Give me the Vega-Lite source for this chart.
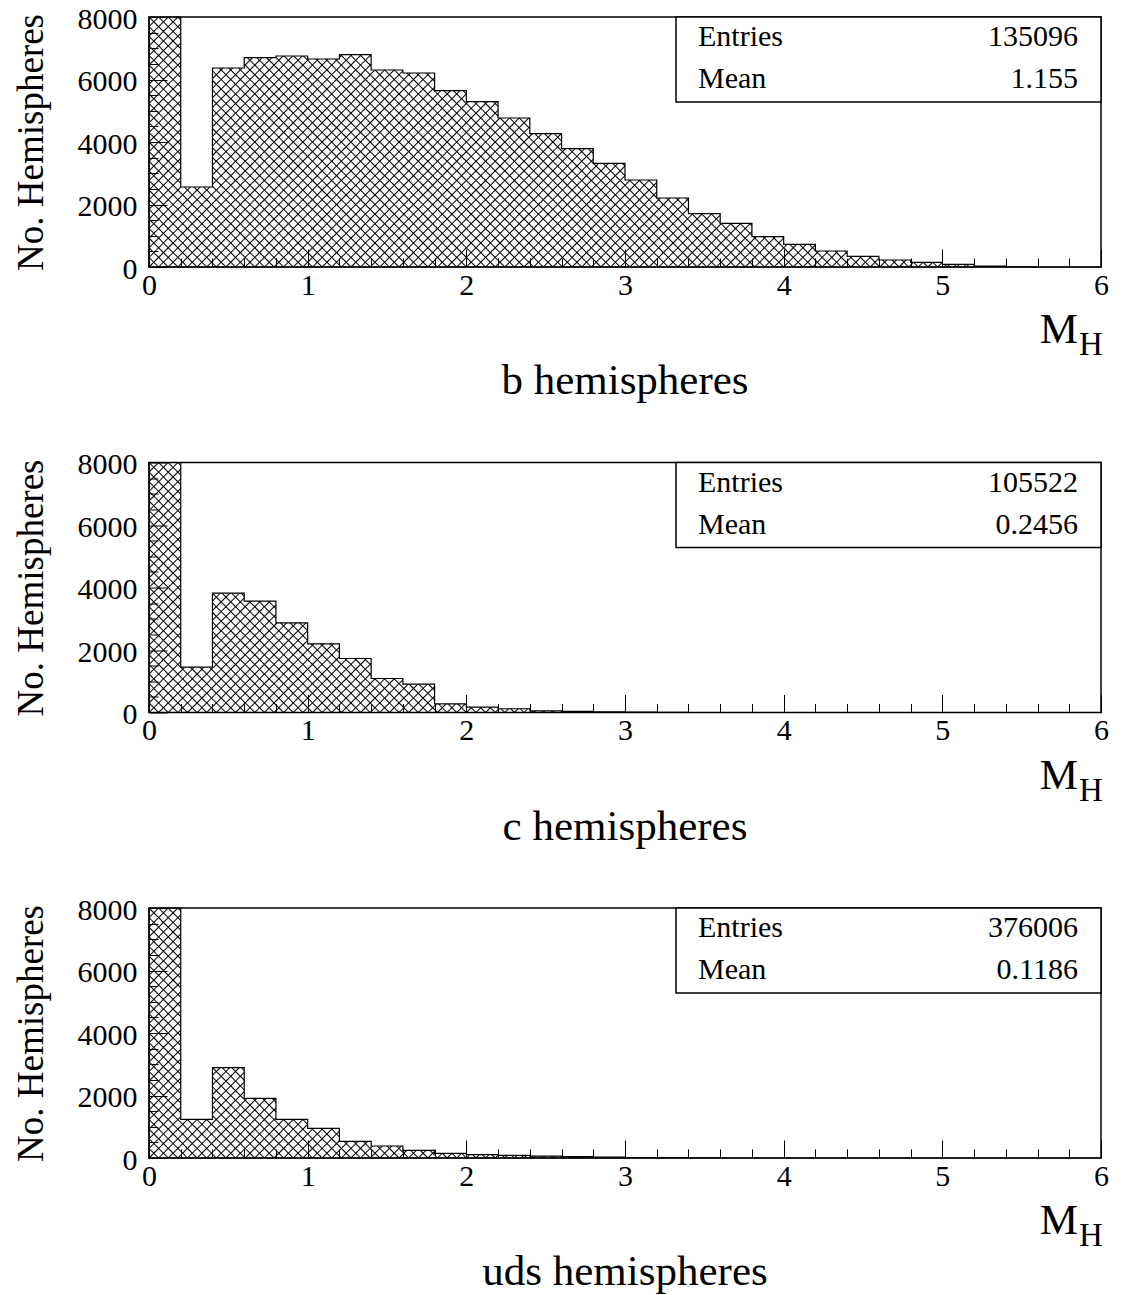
{
"$schema": "https://vega.github.io/schema/vega-lite/v6.json",
"autosize": {"type": "none"},
"padding": {"left": 149, "top": 17, "right": 974, "bottom": 1278},
"background": "white",
"params": [
{"name": "hs", "value": [
{"offset":0,"color":"#000"},{"offset":0.0012,"color":"#0000"},
{"offset":0.0068,"color":"#0000"},{"offset":0.008,"color":"#000"},{"offset":0.0092,"color":"#0000"},
{"offset":0.0148,"color":"#0000"},{"offset":0.016,"color":"#000"},{"offset":0.0172,"color":"#0000"},
{"offset":0.0228,"color":"#0000"},{"offset":0.024,"color":"#000"},{"offset":0.0252,"color":"#0000"},
{"offset":0.0308,"color":"#0000"},{"offset":0.032,"color":"#000"},{"offset":0.0332,"color":"#0000"},
{"offset":0.0388,"color":"#0000"},{"offset":0.04,"color":"#000"},{"offset":0.0412,"color":"#0000"},
{"offset":0.0468,"color":"#0000"},{"offset":0.048,"color":"#000"},{"offset":0.0492,"color":"#0000"},
{"offset":0.0548,"color":"#0000"},{"offset":0.056,"color":"#000"},{"offset":0.0572,"color":"#0000"},
{"offset":0.0628,"color":"#0000"},{"offset":0.064,"color":"#000"},{"offset":0.0652,"color":"#0000"},
{"offset":0.0708,"color":"#0000"},{"offset":0.072,"color":"#000"},{"offset":0.0732,"color":"#0000"},
{"offset":0.0788,"color":"#0000"},{"offset":0.08,"color":"#000"},{"offset":0.0812,"color":"#0000"},
{"offset":0.0868,"color":"#0000"},{"offset":0.088,"color":"#000"},{"offset":0.0892,"color":"#0000"},
{"offset":0.0948,"color":"#0000"},{"offset":0.096,"color":"#000"},{"offset":0.0972,"color":"#0000"},
{"offset":0.1028,"color":"#0000"},{"offset":0.104,"color":"#000"},{"offset":0.1052,"color":"#0000"},
{"offset":0.1108,"color":"#0000"},{"offset":0.112,"color":"#000"},{"offset":0.1132,"color":"#0000"},
{"offset":0.1188,"color":"#0000"},{"offset":0.12,"color":"#000"},{"offset":0.1212,"color":"#0000"},
{"offset":0.1268,"color":"#0000"},{"offset":0.128,"color":"#000"},{"offset":0.1292,"color":"#0000"},
{"offset":0.1348,"color":"#0000"},{"offset":0.136,"color":"#000"},{"offset":0.1372,"color":"#0000"},
{"offset":0.1428,"color":"#0000"},{"offset":0.144,"color":"#000"},{"offset":0.1452,"color":"#0000"},
{"offset":0.1508,"color":"#0000"},{"offset":0.152,"color":"#000"},{"offset":0.1532,"color":"#0000"},
{"offset":0.1588,"color":"#0000"},{"offset":0.16,"color":"#000"},{"offset":0.1612,"color":"#0000"},
{"offset":0.1668,"color":"#0000"},{"offset":0.168,"color":"#000"},{"offset":0.1692,"color":"#0000"},
{"offset":0.1748,"color":"#0000"},{"offset":0.176,"color":"#000"},{"offset":0.1772,"color":"#0000"},
{"offset":0.1828,"color":"#0000"},{"offset":0.184,"color":"#000"},{"offset":0.1852,"color":"#0000"},
{"offset":0.1908,"color":"#0000"},{"offset":0.192,"color":"#000"},{"offset":0.1932,"color":"#0000"},
{"offset":0.1988,"color":"#0000"},{"offset":0.2,"color":"#000"},{"offset":0.2012,"color":"#0000"},
{"offset":0.2068,"color":"#0000"},{"offset":0.208,"color":"#000"},{"offset":0.2092,"color":"#0000"},
{"offset":0.2148,"color":"#0000"},{"offset":0.216,"color":"#000"},{"offset":0.2172,"color":"#0000"},
{"offset":0.2228,"color":"#0000"},{"offset":0.224,"color":"#000"},{"offset":0.2252,"color":"#0000"},
{"offset":0.2308,"color":"#0000"},{"offset":0.232,"color":"#000"},{"offset":0.2332,"color":"#0000"},
{"offset":0.2388,"color":"#0000"},{"offset":0.24,"color":"#000"},{"offset":0.2412,"color":"#0000"},
{"offset":0.2468,"color":"#0000"},{"offset":0.248,"color":"#000"},{"offset":0.2492,"color":"#0000"},
{"offset":0.2548,"color":"#0000"},{"offset":0.256,"color":"#000"},{"offset":0.2572,"color":"#0000"},
{"offset":0.2628,"color":"#0000"},{"offset":0.264,"color":"#000"},{"offset":0.2652,"color":"#0000"},
{"offset":0.2708,"color":"#0000"},{"offset":0.272,"color":"#000"},{"offset":0.2732,"color":"#0000"},
{"offset":0.2788,"color":"#0000"},{"offset":0.28,"color":"#000"},{"offset":0.2812,"color":"#0000"},
{"offset":0.2868,"color":"#0000"},{"offset":0.288,"color":"#000"},{"offset":0.2892,"color":"#0000"},
{"offset":0.2948,"color":"#0000"},{"offset":0.296,"color":"#000"},{"offset":0.2972,"color":"#0000"},
{"offset":0.3028,"color":"#0000"},{"offset":0.304,"color":"#000"},{"offset":0.3052,"color":"#0000"},
{"offset":0.3108,"color":"#0000"},{"offset":0.312,"color":"#000"},{"offset":0.3132,"color":"#0000"},
{"offset":0.3188,"color":"#0000"},{"offset":0.32,"color":"#000"},{"offset":0.3212,"color":"#0000"},
{"offset":0.3268,"color":"#0000"},{"offset":0.328,"color":"#000"},{"offset":0.3292,"color":"#0000"},
{"offset":0.3348,"color":"#0000"},{"offset":0.336,"color":"#000"},{"offset":0.3372,"color":"#0000"},
{"offset":0.3428,"color":"#0000"},{"offset":0.344,"color":"#000"},{"offset":0.3452,"color":"#0000"},
{"offset":0.3508,"color":"#0000"},{"offset":0.352,"color":"#000"},{"offset":0.3532,"color":"#0000"},
{"offset":0.3588,"color":"#0000"},{"offset":0.36,"color":"#000"},{"offset":0.3612,"color":"#0000"},
{"offset":0.3668,"color":"#0000"},{"offset":0.368,"color":"#000"},{"offset":0.3692,"color":"#0000"},
{"offset":0.3748,"color":"#0000"},{"offset":0.376,"color":"#000"},{"offset":0.3772,"color":"#0000"},
{"offset":0.3828,"color":"#0000"},{"offset":0.384,"color":"#000"},{"offset":0.3852,"color":"#0000"},
{"offset":0.3908,"color":"#0000"},{"offset":0.392,"color":"#000"},{"offset":0.3932,"color":"#0000"},
{"offset":0.3988,"color":"#0000"},{"offset":0.4,"color":"#000"},{"offset":0.4012,"color":"#0000"},
{"offset":0.4068,"color":"#0000"},{"offset":0.408,"color":"#000"},{"offset":0.4092,"color":"#0000"},
{"offset":0.4148,"color":"#0000"},{"offset":0.416,"color":"#000"},{"offset":0.4172,"color":"#0000"},
{"offset":0.4228,"color":"#0000"},{"offset":0.424,"color":"#000"},{"offset":0.4252,"color":"#0000"},
{"offset":0.4308,"color":"#0000"},{"offset":0.432,"color":"#000"},{"offset":0.4332,"color":"#0000"},
{"offset":0.4388,"color":"#0000"},{"offset":0.44,"color":"#000"},{"offset":0.4412,"color":"#0000"},
{"offset":0.4468,"color":"#0000"},{"offset":0.448,"color":"#000"},{"offset":0.4492,"color":"#0000"},
{"offset":0.4548,"color":"#0000"},{"offset":0.456,"color":"#000"},{"offset":0.4572,"color":"#0000"},
{"offset":0.4628,"color":"#0000"},{"offset":0.464,"color":"#000"},{"offset":0.4652,"color":"#0000"},
{"offset":0.4708,"color":"#0000"},{"offset":0.472,"color":"#000"},{"offset":0.4732,"color":"#0000"},
{"offset":0.4788,"color":"#0000"},{"offset":0.48,"color":"#000"},{"offset":0.4812,"color":"#0000"},
{"offset":0.4868,"color":"#0000"},{"offset":0.488,"color":"#000"},{"offset":0.4892,"color":"#0000"},
{"offset":0.4948,"color":"#0000"},{"offset":0.496,"color":"#000"},{"offset":0.4972,"color":"#0000"},
{"offset":0.5028,"color":"#0000"},{"offset":0.504,"color":"#000"},{"offset":0.5052,"color":"#0000"},
{"offset":0.5108,"color":"#0000"},{"offset":0.512,"color":"#000"},{"offset":0.5132,"color":"#0000"},
{"offset":0.5188,"color":"#0000"},{"offset":0.52,"color":"#000"},{"offset":0.5212,"color":"#0000"},
{"offset":0.5268,"color":"#0000"},{"offset":0.528,"color":"#000"},{"offset":0.5292,"color":"#0000"},
{"offset":0.5348,"color":"#0000"},{"offset":0.536,"color":"#000"},{"offset":0.5372,"color":"#0000"},
{"offset":0.5428,"color":"#0000"},{"offset":0.544,"color":"#000"},{"offset":0.5452,"color":"#0000"},
{"offset":0.5508,"color":"#0000"},{"offset":0.552,"color":"#000"},{"offset":0.5532,"color":"#0000"},
{"offset":0.5588,"color":"#0000"},{"offset":0.56,"color":"#000"},{"offset":0.5612,"color":"#0000"},
{"offset":0.5668,"color":"#0000"},{"offset":0.568,"color":"#000"},{"offset":0.5692,"color":"#0000"},
{"offset":0.5748,"color":"#0000"},{"offset":0.576,"color":"#000"},{"offset":0.5772,"color":"#0000"},
{"offset":0.5828,"color":"#0000"},{"offset":0.584,"color":"#000"},{"offset":0.5852,"color":"#0000"},
{"offset":0.5908,"color":"#0000"},{"offset":0.592,"color":"#000"},{"offset":0.5932,"color":"#0000"},
{"offset":0.5988,"color":"#0000"},{"offset":0.6,"color":"#000"},{"offset":0.6012,"color":"#0000"},
{"offset":0.6068,"color":"#0000"},{"offset":0.608,"color":"#000"},{"offset":0.6092,"color":"#0000"},
{"offset":0.6148,"color":"#0000"},{"offset":0.616,"color":"#000"},{"offset":0.6172,"color":"#0000"},
{"offset":0.6228,"color":"#0000"},{"offset":0.624,"color":"#000"},{"offset":0.6252,"color":"#0000"},
{"offset":0.6308,"color":"#0000"},{"offset":0.632,"color":"#000"},{"offset":0.6332,"color":"#0000"},
{"offset":0.6388,"color":"#0000"},{"offset":0.64,"color":"#000"},{"offset":0.6412,"color":"#0000"},
{"offset":0.6468,"color":"#0000"},{"offset":0.648,"color":"#000"},{"offset":0.6492,"color":"#0000"},
{"offset":0.6548,"color":"#0000"},{"offset":0.656,"color":"#000"},{"offset":0.6572,"color":"#0000"},
{"offset":0.6628,"color":"#0000"},{"offset":0.664,"color":"#000"},{"offset":0.6652,"color":"#0000"},
{"offset":0.6708,"color":"#0000"},{"offset":0.672,"color":"#000"},{"offset":0.6732,"color":"#0000"},
{"offset":0.6788,"color":"#0000"},{"offset":0.68,"color":"#000"},{"offset":0.6812,"color":"#0000"},
{"offset":0.6868,"color":"#0000"},{"offset":0.688,"color":"#000"},{"offset":0.6892,"color":"#0000"},
{"offset":0.6948,"color":"#0000"},{"offset":0.696,"color":"#000"},{"offset":0.6972,"color":"#0000"},
{"offset":0.7028,"color":"#0000"},{"offset":0.704,"color":"#000"},{"offset":0.7052,"color":"#0000"},
{"offset":0.7108,"color":"#0000"},{"offset":0.712,"color":"#000"},{"offset":0.7132,"color":"#0000"},
{"offset":0.7188,"color":"#0000"},{"offset":0.72,"color":"#000"},{"offset":0.7212,"color":"#0000"},
{"offset":0.7268,"color":"#0000"},{"offset":0.728,"color":"#000"},{"offset":0.7292,"color":"#0000"},
{"offset":0.7348,"color":"#0000"},{"offset":0.736,"color":"#000"},{"offset":0.7372,"color":"#0000"},
{"offset":0.7428,"color":"#0000"},{"offset":0.744,"color":"#000"},{"offset":0.7452,"color":"#0000"},
{"offset":0.7508,"color":"#0000"},{"offset":0.752,"color":"#000"},{"offset":0.7532,"color":"#0000"},
{"offset":0.7588,"color":"#0000"},{"offset":0.76,"color":"#000"},{"offset":0.7612,"color":"#0000"},
{"offset":0.7668,"color":"#0000"},{"offset":0.768,"color":"#000"},{"offset":0.7692,"color":"#0000"},
{"offset":0.7748,"color":"#0000"},{"offset":0.776,"color":"#000"},{"offset":0.7772,"color":"#0000"},
{"offset":0.7828,"color":"#0000"},{"offset":0.784,"color":"#000"},{"offset":0.7852,"color":"#0000"},
{"offset":0.7908,"color":"#0000"},{"offset":0.792,"color":"#000"},{"offset":0.7932,"color":"#0000"},
{"offset":0.7988,"color":"#0000"},{"offset":0.8,"color":"#000"},{"offset":0.8012,"color":"#0000"},
{"offset":0.8068,"color":"#0000"},{"offset":0.808,"color":"#000"},{"offset":0.8092,"color":"#0000"},
{"offset":0.8148,"color":"#0000"},{"offset":0.816,"color":"#000"},{"offset":0.8172,"color":"#0000"},
{"offset":0.8228,"color":"#0000"},{"offset":0.824,"color":"#000"},{"offset":0.8252,"color":"#0000"},
{"offset":0.8308,"color":"#0000"},{"offset":0.832,"color":"#000"},{"offset":0.8332,"color":"#0000"},
{"offset":0.8388,"color":"#0000"},{"offset":0.84,"color":"#000"},{"offset":0.8412,"color":"#0000"},
{"offset":0.8468,"color":"#0000"},{"offset":0.848,"color":"#000"},{"offset":0.8492,"color":"#0000"},
{"offset":0.8548,"color":"#0000"},{"offset":0.856,"color":"#000"},{"offset":0.8572,"color":"#0000"},
{"offset":0.8628,"color":"#0000"},{"offset":0.864,"color":"#000"},{"offset":0.8652,"color":"#0000"},
{"offset":0.8708,"color":"#0000"},{"offset":0.872,"color":"#000"},{"offset":0.8732,"color":"#0000"},
{"offset":0.8788,"color":"#0000"},{"offset":0.88,"color":"#000"},{"offset":0.8812,"color":"#0000"},
{"offset":0.8868,"color":"#0000"},{"offset":0.888,"color":"#000"},{"offset":0.8892,"color":"#0000"},
{"offset":0.8948,"color":"#0000"},{"offset":0.896,"color":"#000"},{"offset":0.8972,"color":"#0000"},
{"offset":0.9028,"color":"#0000"},{"offset":0.904,"color":"#000"},{"offset":0.9052,"color":"#0000"},
{"offset":0.9108,"color":"#0000"},{"offset":0.912,"color":"#000"},{"offset":0.9132,"color":"#0000"},
{"offset":0.9188,"color":"#0000"},{"offset":0.92,"color":"#000"},{"offset":0.9212,"color":"#0000"},
{"offset":0.9268,"color":"#0000"},{"offset":0.928,"color":"#000"},{"offset":0.9292,"color":"#0000"},
{"offset":0.9348,"color":"#0000"},{"offset":0.936,"color":"#000"},{"offset":0.9372,"color":"#0000"},
{"offset":0.9428,"color":"#0000"},{"offset":0.944,"color":"#000"},{"offset":0.9452,"color":"#0000"},
{"offset":0.9508,"color":"#0000"},{"offset":0.952,"color":"#000"},{"offset":0.9532,"color":"#0000"},
{"offset":0.9588,"color":"#0000"},{"offset":0.96,"color":"#000"},{"offset":0.9612,"color":"#0000"},
{"offset":0.9668,"color":"#0000"},{"offset":0.968,"color":"#000"},{"offset":0.9692,"color":"#0000"},
{"offset":0.9748,"color":"#0000"},{"offset":0.976,"color":"#000"},{"offset":0.9772,"color":"#0000"},
{"offset":0.9828,"color":"#0000"},{"offset":0.984,"color":"#000"},{"offset":0.9852,"color":"#0000"},
{"offset":0.9908,"color":"#0000"},{"offset":0.992,"color":"#000"},{"offset":0.9932,"color":"#0000"},
{"offset":0.9988,"color":"#0000"},{"offset":1,"color":"#000"}
]},
{"name": "hatchA", "expr": "{gradient: 'linear', x1: 0, y1: 0, x2: 1.18115, y2: 0.31019, stops: hs}"},
{"name": "hatchB", "expr": "{gradient: 'linear', x1: 0, y1: 1, x2: 1.18115, y2: 0.68981, stops: hs}"}
],
"datasets": {
"b": [
{"lo":0,"hi":0.2,"n":48556},{"lo":0.2,"hi":0.4,"n":2560},{"lo":0.4,"hi":0.6,"n":6368},{"lo":0.6,"hi":0.8,"n":6698},
{"lo":0.8,"hi":1,"n":6752},{"lo":1,"hi":1.2,"n":6656},{"lo":1.2,"hi":1.4,"n":6794},{"lo":1.4,"hi":1.6,"n":6304},
{"lo":1.6,"hi":1.8,"n":6208},{"lo":1.8,"hi":2,"n":5643},{"lo":2,"hi":2.2,"n":5291},{"lo":2.2,"hi":2.4,"n":4768},
{"lo":2.4,"hi":2.6,"n":4267},{"lo":2.6,"hi":2.8,"n":3787},{"lo":2.8,"hi":3,"n":3317},{"lo":3,"hi":3.2,"n":2784},
{"lo":3.2,"hi":3.4,"n":2208},{"lo":3.4,"hi":3.6,"n":1706},{"lo":3.6,"hi":3.8,"n":1397},{"lo":3.8,"hi":4,"n":971},
{"lo":4,"hi":4.2,"n":725},{"lo":4.2,"hi":4.4,"n":512},{"lo":4.4,"hi":4.6,"n":341},{"lo":4.6,"hi":4.8,"n":224},
{"lo":4.8,"hi":5,"n":149},{"lo":5,"hi":5.2,"n":85},{"lo":5.2,"hi":5.4,"n":25},{"lo":5.4,"hi":5.6,"n":5},
{"lo":5.6,"hi":5.8,"n":0},{"lo":5.8,"hi":6,"n":0}
],
"c": [
{"lo":0,"hi":0.2,"n":87214},{"lo":0.2,"hi":0.4,"n":1450},{"lo":0.4,"hi":0.6,"n":3819},{"lo":0.6,"hi":0.8,"n":3563},
{"lo":0.8,"hi":1,"n":2869},{"lo":1,"hi":1.2,"n":2197},{"lo":1.2,"hi":1.4,"n":1728},{"lo":1.4,"hi":1.6,"n":1088},
{"lo":1.6,"hi":1.8,"n":907},{"lo":1.8,"hi":2,"n":277},{"lo":2,"hi":2.2,"n":170},{"lo":2.2,"hi":2.4,"n":120},
{"lo":2.4,"hi":2.6,"n":50},{"lo":2.6,"hi":2.8,"n":35},{"lo":2.8,"hi":3,"n":20},{"lo":3,"hi":3.2,"n":10},
{"lo":3.2,"hi":3.4,"n":5},{"lo":3.4,"hi":3.6,"n":0},{"lo":3.6,"hi":3.8,"n":0},{"lo":3.8,"hi":4,"n":0},
{"lo":4,"hi":4.2,"n":0},{"lo":4.2,"hi":4.4,"n":0},{"lo":4.4,"hi":4.6,"n":0},{"lo":4.6,"hi":4.8,"n":0},
{"lo":4.8,"hi":5,"n":0},{"lo":5,"hi":5.2,"n":0},{"lo":5.2,"hi":5.4,"n":0},{"lo":5.4,"hi":5.6,"n":0},
{"lo":5.6,"hi":5.8,"n":0},{"lo":5.8,"hi":6,"n":0}
],
"uds": [
{"lo":0,"hi":0.2,"n":366108},{"lo":0.2,"hi":0.4,"n":1238},{"lo":0.4,"hi":0.6,"n":2890},{"lo":0.6,"hi":0.8,"n":1910},
{"lo":0.8,"hi":1,"n":1238},{"lo":1,"hi":1.2,"n":950},{"lo":1.2,"hi":1.4,"n":534},{"lo":1.4,"hi":1.6,"n":384},
{"lo":1.6,"hi":1.8,"n":246},{"lo":1.8,"hi":2,"n":150},{"lo":2,"hi":2.2,"n":107},{"lo":2.2,"hi":2.4,"n":86},
{"lo":2.4,"hi":2.6,"n":60},{"lo":2.6,"hi":2.8,"n":45},{"lo":2.8,"hi":3,"n":30},{"lo":3,"hi":3.2,"n":15},
{"lo":3.2,"hi":3.4,"n":10},{"lo":3.4,"hi":3.6,"n":5},{"lo":3.6,"hi":3.8,"n":0},{"lo":3.8,"hi":4,"n":0},
{"lo":4,"hi":4.2,"n":0},{"lo":4.2,"hi":4.4,"n":0},{"lo":4.4,"hi":4.6,"n":0},{"lo":4.6,"hi":4.8,"n":0},
{"lo":4.8,"hi":5,"n":0},{"lo":5,"hi":5.2,"n":0},{"lo":5.2,"hi":5.4,"n":0},{"lo":5.4,"hi":5.6,"n":0},
{"lo":5.6,"hi":5.8,"n":0},{"lo":5.8,"hi":6,"n":0}
]
},
"vconcat": [
{
"width": 952, "height": 250,
"layer": [
{"data": {"name": "b"}, "transform": [{"fold": ["lo","hi"], "as": ["edge","x"]}],
 "mark": {"type": "area", "fill": {"expr": "hatchA"}, "strokeWidth": 0},
 "encoding": {
  "x": {"field": "x", "type": "quantitative", "scale": {"domain": [0,6], "nice": false, "zero": false}, "axis": {"orient": "bottom", "values": [0,1,2,3,4,5,6], "format": "d", "tickSize": -18, "labelPadding": 21, "title": null}},
  "y": {"field": "n", "type": "quantitative", "stack": null, "scale": {"domain": [0,8000], "nice": false, "clamp": true}, "axis": {"orient": "left", "values": [0,2000,4000,6000,8000], "format": "d", "tickSize": -18, "labelPadding": 30, "labelOffset": 2, "title": "No. Hemispheres", "titleFontSize": 37, "titlePadding": 27}},
  "order": [{"field": "x", "type": "quantitative"}, {"field": "lo", "type": "quantitative"}]
 }},
{"data": {"name": "b"}, "transform": [{"fold": ["lo","hi"], "as": ["edge","x"]}],
 "mark": {"type": "area", "fill": {"expr": "hatchB"}, "stroke": "black", "strokeWidth": 1.2},
 "encoding": {
  "x": {"field": "x", "type": "quantitative", "axis": {"orient": "bottom", "values": [0.2,0.4,0.6,0.8,1.2,1.4,1.6,1.8,2.2,2.4,2.6,2.8,3.2,3.4,3.6,3.8,4.2,4.4,4.6,4.8,5.2,5.4,5.6,5.8], "tickSize": -9, "labels": false, "title": null}},
  "y": {"field": "n", "type": "quantitative", "stack": null, "axis": {"orient": "left", "values": [500,1000,1500,2500,3000,3500,4500,5000,5500,6500,7000,7500], "tickSize": -9, "labels": false, "title": null}},
  "order": [{"field": "x", "type": "quantitative"}, {"field": "lo", "type": "quantitative"}]
 }},
{"data": {"values": [{"label": "b hemispheres", "entries": "135096", "mean": "1.155"}]},
 "layer": [
  {"mark": {"type": "rect", "fill": "white", "stroke": "black", "strokeWidth": 1.5}, "encoding": {"x": {"datum": 3.3214, "axis": null}, "x2": {"datum": 6}, "y": {"datum": 8000, "axis": null}, "y2": {"datum": 5280}}},
  {"mark": {"type": "text", "text": "Entries", "align": "left", "baseline": "alphabetic", "fontSize": 30, "dx": 22, "dy": 29}, "encoding": {"x": {"datum": 3.3214, "axis": null}, "y": {"datum": 8000, "axis": null}}},
  {"mark": {"type": "text", "align": "right", "baseline": "alphabetic", "fontSize": 30, "dx": -23, "dy": 29}, "encoding": {"x": {"datum": 6, "axis": null}, "y": {"datum": 8000, "axis": null}, "text": {"field": "entries"}}},
  {"mark": {"type": "text", "text": "Mean", "align": "left", "baseline": "alphabetic", "fontSize": 30, "dx": 22, "dy": 71}, "encoding": {"x": {"datum": 3.3214, "axis": null}, "y": {"datum": 8000, "axis": null}}},
  {"mark": {"type": "text", "align": "right", "baseline": "alphabetic", "fontSize": 30, "dx": -23, "dy": 71}, "encoding": {"x": {"datum": 6, "axis": null}, "y": {"datum": 8000, "axis": null}, "text": {"field": "mean"}}},
  {"mark": {"type": "text", "text": "M", "align": "right", "baseline": "alphabetic", "fontSize": 43, "dx": -23, "dy": 76}, "encoding": {"x": {"datum": 6, "axis": null}, "y": {"datum": 0, "axis": null}}},
  {"mark": {"type": "text", "text": "H", "align": "left", "baseline": "alphabetic", "fontSize": 33, "dx": -22, "dy": 88}, "encoding": {"x": {"datum": 6, "axis": null}, "y": {"datum": 0, "axis": null}}},
  {"mark": {"type": "text", "align": "center", "baseline": "alphabetic", "fontSize": 43, "dy": 127}, "encoding": {"x": {"datum": 3, "axis": null}, "y": {"datum": 0, "axis": null}, "text": {"field": "label"}}}
 ]}
],
"resolve": {"axis": {"x": "independent", "y": "independent"}}
},
{
"width": 952, "height": 250,
"layer": [
{"data": {"name": "c"}, "transform": [{"fold": ["lo","hi"], "as": ["edge","x"]}],
 "mark": {"type": "area", "fill": {"expr": "hatchA"}, "strokeWidth": 0},
 "encoding": {
  "x": {"field": "x", "type": "quantitative", "scale": {"domain": [0,6], "nice": false, "zero": false}, "axis": {"orient": "bottom", "values": [0,1,2,3,4,5,6], "format": "d", "tickSize": -18, "labelPadding": 21, "title": null}},
  "y": {"field": "n", "type": "quantitative", "stack": null, "scale": {"domain": [0,8000], "nice": false, "clamp": true}, "axis": {"orient": "left", "values": [0,2000,4000,6000,8000], "format": "d", "tickSize": -18, "labelPadding": 30, "labelOffset": 2, "title": "No. Hemispheres", "titleFontSize": 37, "titlePadding": 27}},
  "order": [{"field": "x", "type": "quantitative"}, {"field": "lo", "type": "quantitative"}]
 }},
{"data": {"name": "c"}, "transform": [{"fold": ["lo","hi"], "as": ["edge","x"]}],
 "mark": {"type": "area", "fill": {"expr": "hatchB"}, "stroke": "black", "strokeWidth": 1.2},
 "encoding": {
  "x": {"field": "x", "type": "quantitative", "axis": {"orient": "bottom", "values": [0.2,0.4,0.6,0.8,1.2,1.4,1.6,1.8,2.2,2.4,2.6,2.8,3.2,3.4,3.6,3.8,4.2,4.4,4.6,4.8,5.2,5.4,5.6,5.8], "tickSize": -9, "labels": false, "title": null}},
  "y": {"field": "n", "type": "quantitative", "stack": null, "axis": {"orient": "left", "values": [500,1000,1500,2500,3000,3500,4500,5000,5500,6500,7000,7500], "tickSize": -9, "labels": false, "title": null}},
  "order": [{"field": "x", "type": "quantitative"}, {"field": "lo", "type": "quantitative"}]
 }},
{"data": {"values": [{"label": "c hemispheres", "entries": "105522", "mean": "0.2456"}]},
 "layer": [
  {"mark": {"type": "rect", "fill": "white", "stroke": "black", "strokeWidth": 1.5}, "encoding": {"x": {"datum": 3.3214, "axis": null}, "x2": {"datum": 6}, "y": {"datum": 8000, "axis": null}, "y2": {"datum": 5280}}},
  {"mark": {"type": "text", "text": "Entries", "align": "left", "baseline": "alphabetic", "fontSize": 30, "dx": 22, "dy": 29}, "encoding": {"x": {"datum": 3.3214, "axis": null}, "y": {"datum": 8000, "axis": null}}},
  {"mark": {"type": "text", "align": "right", "baseline": "alphabetic", "fontSize": 30, "dx": -23, "dy": 29}, "encoding": {"x": {"datum": 6, "axis": null}, "y": {"datum": 8000, "axis": null}, "text": {"field": "entries"}}},
  {"mark": {"type": "text", "text": "Mean", "align": "left", "baseline": "alphabetic", "fontSize": 30, "dx": 22, "dy": 71}, "encoding": {"x": {"datum": 3.3214, "axis": null}, "y": {"datum": 8000, "axis": null}}},
  {"mark": {"type": "text", "align": "right", "baseline": "alphabetic", "fontSize": 30, "dx": -23, "dy": 71}, "encoding": {"x": {"datum": 6, "axis": null}, "y": {"datum": 8000, "axis": null}, "text": {"field": "mean"}}},
  {"mark": {"type": "text", "text": "M", "align": "right", "baseline": "alphabetic", "fontSize": 43, "dx": -23, "dy": 76}, "encoding": {"x": {"datum": 6, "axis": null}, "y": {"datum": 0, "axis": null}}},
  {"mark": {"type": "text", "text": "H", "align": "left", "baseline": "alphabetic", "fontSize": 33, "dx": -22, "dy": 88}, "encoding": {"x": {"datum": 6, "axis": null}, "y": {"datum": 0, "axis": null}}},
  {"mark": {"type": "text", "align": "center", "baseline": "alphabetic", "fontSize": 43, "dy": 127}, "encoding": {"x": {"datum": 3, "axis": null}, "y": {"datum": 0, "axis": null}, "text": {"field": "label"}}}
 ]}
],
"resolve": {"axis": {"x": "independent", "y": "independent"}}
},
{
"width": 952, "height": 250,
"layer": [
{"data": {"name": "uds"}, "transform": [{"fold": ["lo","hi"], "as": ["edge","x"]}],
 "mark": {"type": "area", "fill": {"expr": "hatchA"}, "strokeWidth": 0},
 "encoding": {
  "x": {"field": "x", "type": "quantitative", "scale": {"domain": [0,6], "nice": false, "zero": false}, "axis": {"orient": "bottom", "values": [0,1,2,3,4,5,6], "format": "d", "tickSize": -18, "labelPadding": 21, "title": null}},
  "y": {"field": "n", "type": "quantitative", "stack": null, "scale": {"domain": [0,8000], "nice": false, "clamp": true}, "axis": {"orient": "left", "values": [0,2000,4000,6000,8000], "format": "d", "tickSize": -18, "labelPadding": 30, "labelOffset": 2, "title": "No. Hemispheres", "titleFontSize": 37, "titlePadding": 27}},
  "order": [{"field": "x", "type": "quantitative"}, {"field": "lo", "type": "quantitative"}]
 }},
{"data": {"name": "uds"}, "transform": [{"fold": ["lo","hi"], "as": ["edge","x"]}],
 "mark": {"type": "area", "fill": {"expr": "hatchB"}, "stroke": "black", "strokeWidth": 1.2},
 "encoding": {
  "x": {"field": "x", "type": "quantitative", "axis": {"orient": "bottom", "values": [0.2,0.4,0.6,0.8,1.2,1.4,1.6,1.8,2.2,2.4,2.6,2.8,3.2,3.4,3.6,3.8,4.2,4.4,4.6,4.8,5.2,5.4,5.6,5.8], "tickSize": -9, "labels": false, "title": null}},
  "y": {"field": "n", "type": "quantitative", "stack": null, "axis": {"orient": "left", "values": [500,1000,1500,2500,3000,3500,4500,5000,5500,6500,7000,7500], "tickSize": -9, "labels": false, "title": null}},
  "order": [{"field": "x", "type": "quantitative"}, {"field": "lo", "type": "quantitative"}]
 }},
{"data": {"values": [{"label": "uds hemispheres", "entries": "376006", "mean": "0.1186"}]},
 "layer": [
  {"mark": {"type": "rect", "fill": "white", "stroke": "black", "strokeWidth": 1.5}, "encoding": {"x": {"datum": 3.3214, "axis": null}, "x2": {"datum": 6}, "y": {"datum": 8000, "axis": null}, "y2": {"datum": 5280}}},
  {"mark": {"type": "text", "text": "Entries", "align": "left", "baseline": "alphabetic", "fontSize": 30, "dx": 22, "dy": 29}, "encoding": {"x": {"datum": 3.3214, "axis": null}, "y": {"datum": 8000, "axis": null}}},
  {"mark": {"type": "text", "align": "right", "baseline": "alphabetic", "fontSize": 30, "dx": -23, "dy": 29}, "encoding": {"x": {"datum": 6, "axis": null}, "y": {"datum": 8000, "axis": null}, "text": {"field": "entries"}}},
  {"mark": {"type": "text", "text": "Mean", "align": "left", "baseline": "alphabetic", "fontSize": 30, "dx": 22, "dy": 71}, "encoding": {"x": {"datum": 3.3214, "axis": null}, "y": {"datum": 8000, "axis": null}}},
  {"mark": {"type": "text", "align": "right", "baseline": "alphabetic", "fontSize": 30, "dx": -23, "dy": 71}, "encoding": {"x": {"datum": 6, "axis": null}, "y": {"datum": 8000, "axis": null}, "text": {"field": "mean"}}},
  {"mark": {"type": "text", "text": "M", "align": "right", "baseline": "alphabetic", "fontSize": 43, "dx": -23, "dy": 76}, "encoding": {"x": {"datum": 6, "axis": null}, "y": {"datum": 0, "axis": null}}},
  {"mark": {"type": "text", "text": "H", "align": "left", "baseline": "alphabetic", "fontSize": 33, "dx": -22, "dy": 88}, "encoding": {"x": {"datum": 6, "axis": null}, "y": {"datum": 0, "axis": null}}},
  {"mark": {"type": "text", "align": "center", "baseline": "alphabetic", "fontSize": 43, "dy": 127}, "encoding": {"x": {"datum": 3, "axis": null}, "y": {"datum": 0, "axis": null}, "text": {"field": "label"}}}
 ]}
],
"resolve": {"axis": {"x": "independent", "y": "independent"}}
}
],
"spacing": 195.5,
"bounds": "flush",
"config": {
 "font": "Liberation Serif",
 "view": {"stroke": "black", "strokeWidth": 1.5},
 "axis": {"labelFont": "Liberation Serif", "labelColor": "black", "labelFontSize": 30, "titleFont": "Liberation Serif", "titleColor": "black", "titleFontWeight": "normal", "tickColor": "black", "tickWidth": 1, "grid": false, "domain": false, "labelFlush": false, "labelOverlap": false},
 "text": {"font": "Liberation Serif", "color": "black"}
}
}
